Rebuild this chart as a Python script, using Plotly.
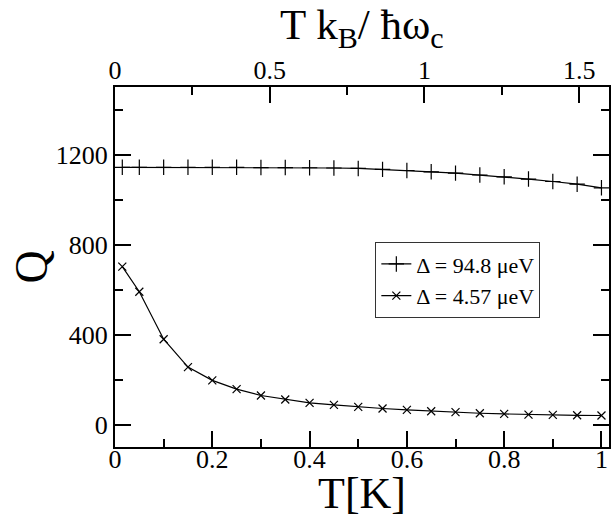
import plotly.graph_objects as go

T = [0.015, 0.05, 0.1, 0.15, 0.2, 0.25, 0.3, 0.35, 0.4, 0.45, 0.5,
     0.55, 0.6, 0.65, 0.7, 0.75, 0.8, 0.85, 0.9, 0.95, 1.0]
Q_large = [1143, 1143, 1143, 1143, 1143, 1143, 1142, 1142, 1141, 1140, 1138,
           1134, 1129, 1123, 1117, 1109, 1101, 1091, 1080, 1068, 1052]
Q_small = [702, 590, 379, 255, 196, 157, 129, 111, 96, 87, 78,
           71, 65, 59, 55, 50, 47, 44, 43, 41, 40]
name_large = "Δ = 94.8 μeV"
name_small = "Δ = 4.57 μeV"

x_range = [0, 1.0155]
top_scale = 1.572  # T k_B / hbar omega_c per kelvin
y_range = [-100, 1500]

FONT = "Liberation Serif"

fig = go.Figure()
fig.add_trace(go.Scatter(
    x=T, y=Q_large, name=name_large, mode="lines+markers",
    line=dict(color="black", width=1.2),
    marker=dict(symbol="cross-thin-open", size=11, color="black",
                line=dict(color="black", width=1.2)),
))
fig.add_trace(go.Scatter(
    x=T, y=Q_small, name=name_small, mode="lines+markers",
    line=dict(color="black", width=1.2),
    marker=dict(symbol="x-thin-open", size=8, color="black",
                line=dict(color="black", width=1.2)),
))
# empty trace so that the top (T k_B / hbar omega_c) axis is drawn
fig.add_trace(go.Scatter(x=[], y=[], xaxis="x2", yaxis="y",
                         showlegend=False, hoverinfo="skip"))

axis_common = dict(
    showgrid=False, zeroline=False, showline=True, linecolor="black",
    linewidth=2, ticks="inside", tickcolor="black", tickwidth=2,
    ticklen=16, tickfont=dict(family=FONT, size=26, color="black"),
)

fig.update_layout(
    width=613, height=519,
    margin=dict(l=115, r=2, t=87, b=72),
    paper_bgcolor="white", plot_bgcolor="white",
    font=dict(family=FONT, color="black"),
    xaxis=dict(
        **axis_common, range=x_range, tick0=0, dtick=0.2, mirror=False,
        ticklabelstandoff=-12,
        minor=dict(dtick=0.1, ticklen=8, tickwidth=2, tickcolor="black", ticks="inside"),
    ),
    xaxis2=dict(
        **axis_common, range=[x_range[0] * top_scale, x_range[1] * top_scale],
        overlaying="x", side="top", anchor="y", tick0=0, dtick=0.5,
        ticklabelstandoff=-4,
        minor=dict(dtick=0.25, ticklen=8, tickwidth=2, tickcolor="black", ticks="inside"),
    ),
    yaxis=dict(
        **axis_common, range=y_range, tick0=0, dtick=400, mirror="ticks",
        minor=dict(dtick=200, ticklen=8, tickwidth=2, tickcolor="black", ticks="inside"),
    ),
    legend=dict(
        x=0.527, y=0.569, xanchor="left", yanchor="top",
        bordercolor="#333", borderwidth=1, bgcolor="white",
        font=dict(family=FONT, size=22, color="black"),
        itemwidth=30, tracegroupgap=0,
    ),
    showlegend=True,
    annotations=[
        dict(text="T[K]", xref="paper", yref="paper", x=0.5, y=-0.13,
             xanchor="center", yanchor="middle", showarrow=False,
             font=dict(family=FONT, size=44, color="black")),
        dict(text="Q", xref="paper", yref="paper", x=-0.171, y=0.5,
             xanchor="center", yanchor="middle", showarrow=False, textangle=-90,
             font=dict(family=FONT, size=46, color="black")),
        dict(text="T k<sub>B</sub>/ ħω<sub>c</sub>", xref="paper", yref="paper",
             x=0.5, y=1.163, xanchor="center", yanchor="middle", showarrow=False,
             font=dict(family=FONT, size=43, color="black")),
    ],
)

fig.write_html("out.html")
